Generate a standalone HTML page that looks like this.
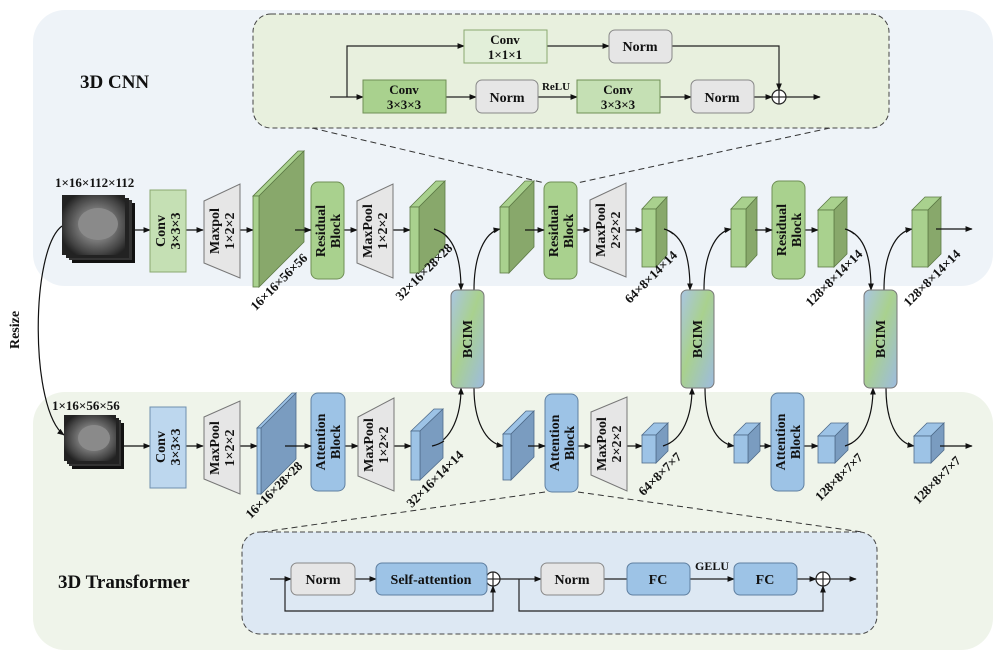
<!DOCTYPE html>
<html><head><meta charset="utf-8"><style>
html,body{margin:0;padding:0;background:#fff;}
svg{display:block;}
text{font-family:"Liberation Serif",serif;font-weight:bold;fill:#111;}
</style></head><body>
<svg width="1008" height="660" viewBox="0 0 1008 660" xmlns="http://www.w3.org/2000/svg">
<defs>
<marker id="ar" viewBox="0 0 10 10" refX="9" refY="5" markerWidth="6" markerHeight="6" orient="auto"><path d="M0,1 L10,5 L0,9z" fill="#111"/></marker>
<linearGradient id="bc" x1="0" y1="0" x2="1" y2="1">
<stop offset="0" stop-color="#a9c5e3"/><stop offset="0.45" stop-color="#a9d18e"/><stop offset="1" stop-color="#9dbbe0"/></linearGradient>
<radialGradient id="mri" cx="0.55" cy="0.5" r="0.6"><stop offset="0" stop-color="#9a9a9a"/><stop offset="0.45" stop-color="#777"/><stop offset="0.8" stop-color="#444"/><stop offset="1" stop-color="#222"/></radialGradient>
</defs>

<rect x="33" y="10" width="960" height="276" rx="32" fill="#eef3f8"/>
<rect x="33" y="392" width="960" height="258" rx="32" fill="#eff4ea"/>

<text x="80" y="88" font-size="19">3D CNN</text>
<text x="58" y="588" font-size="19">3D Transformer</text>

<!-- top inset -->
<line x1="312" y1="128" x2="545" y2="183" stroke="#333" stroke-dasharray="6,4"/>
<line x1="830" y1="128" x2="577" y2="183" stroke="#333" stroke-dasharray="6,4"/>
<rect x="253" y="14" width="636" height="114" rx="18" fill="#e8f0de" stroke="#444" stroke-dasharray="5,3"/>
<g stroke="#222" fill="none" stroke-width="1.2">
<line x1="330" y1="97" x2="363" y2="97" marker-end="url(#ar)"/>
<polyline points="347,97 347,46 464,46" marker-end="url(#ar)"/>
<line x1="547" y1="46" x2="609" y2="46" marker-end="url(#ar)"/>
<polyline points="672,46 779,46 779,90" marker-end="url(#ar)"/>
<line x1="446" y1="97" x2="476" y2="97" marker-end="url(#ar)"/>
<line x1="538" y1="97" x2="577" y2="97" marker-end="url(#ar)"/>
<line x1="660" y1="97" x2="691" y2="97" marker-end="url(#ar)"/>
<line x1="754" y1="97" x2="772" y2="97" marker-end="url(#ar)"/>
<line x1="786" y1="97" x2="820" y2="97" marker-end="url(#ar)"/>
<circle cx="779" cy="97" r="7" fill="#fff"/>
<line x1="772" y1="97" x2="786" y2="97"/><line x1="779" y1="90" x2="779" y2="104"/>
</g>
<rect x="464" y="30" width="83" height="33" fill="#e2efd9" stroke="#8aa870"/>
<text x="505" y="44" font-size="13" text-anchor="middle">Conv</text>
<text x="505" y="59" font-size="13" text-anchor="middle">1×1×1</text>
<rect x="609" y="30" width="63" height="33" rx="6" fill="#e6e6e6" stroke="#888"/>
<text x="640" y="51" font-size="14" text-anchor="middle">Norm</text>
<rect x="363" y="80" width="83" height="33" fill="#a9d18e" stroke="#6f8f55"/>
<text x="404" y="94" font-size="13" text-anchor="middle">Conv</text>
<text x="404" y="109" font-size="13" text-anchor="middle">3×3×3</text>
<rect x="476" y="80" width="62" height="33" rx="6" fill="#e6e6e6" stroke="#888"/>
<text x="507" y="102" font-size="14" text-anchor="middle">Norm</text>
<text x="556" y="90" font-size="11" text-anchor="middle">ReLU</text>
<rect x="577" y="80" width="83" height="33" fill="#c5e0b4" stroke="#6f8f55"/>
<text x="618" y="94" font-size="13" text-anchor="middle">Conv</text>
<text x="618" y="109" font-size="13" text-anchor="middle">3×3×3</text>
<rect x="691" y="80" width="63" height="33" rx="6" fill="#e6e6e6" stroke="#888"/>
<text x="722" y="102" font-size="14" text-anchor="middle">Norm</text>

<!-- bottom inset -->
<line x1="545" y1="492" x2="262" y2="532" stroke="#333" stroke-dasharray="6,4"/>
<line x1="578" y1="492" x2="862" y2="532" stroke="#333" stroke-dasharray="6,4"/>
<rect x="242" y="532" width="635" height="102" rx="18" fill="#dde8f3" stroke="#444" stroke-dasharray="5,3"/>
<g stroke="#222" fill="none" stroke-width="1.2">
<line x1="270" y1="579" x2="291" y2="579" marker-end="url(#ar)"/>
<polyline points="285,579 285,611 493,611 493,586" marker-end="url(#ar)"/>
<line x1="355" y1="579" x2="376" y2="579" marker-end="url(#ar)"/>
<line x1="500" y1="579" x2="541" y2="579" marker-end="url(#ar)"/>
<polyline points="519,579 519,611 823,611 823,586" marker-end="url(#ar)"/>
<line x1="604" y1="579" x2="627" y2="579"/>
<line x1="690" y1="579" x2="734" y2="579" marker-end="url(#ar)"/>
<line x1="797" y1="579" x2="816" y2="579" marker-end="url(#ar)"/>
<line x1="830" y1="579" x2="856" y2="579" marker-end="url(#ar)"/>
<circle cx="493" cy="579" r="7" fill="#fff"/>
<line x1="486" y1="579" x2="500" y2="579"/><line x1="493" y1="572" x2="493" y2="586"/>
<circle cx="823" cy="579" r="7" fill="#fff"/>
<line x1="816" y1="579" x2="830" y2="579"/><line x1="823" y1="572" x2="823" y2="586"/>
</g>
<rect x="291" y="563" width="64" height="32" rx="6" fill="#e6e6e6" stroke="#888"/>
<text x="323" y="584" font-size="14" text-anchor="middle">Norm</text>
<rect x="376" y="563" width="111" height="32" rx="6" fill="#9dc3e6" stroke="#5f7fa0"/>
<text x="431" y="584" font-size="14" text-anchor="middle">Self-attention</text>
<rect x="541" y="563" width="63" height="32" rx="6" fill="#e6e6e6" stroke="#888"/>
<text x="572" y="584" font-size="14" text-anchor="middle">Norm</text>
<rect x="627" y="563" width="63" height="32" rx="6" fill="#9dc3e6" stroke="#5f7fa0"/>
<text x="658" y="584" font-size="14" text-anchor="middle">FC</text>
<text x="712" y="570" font-size="12" text-anchor="middle">GELU</text>
<rect x="734" y="563" width="63" height="32" rx="6" fill="#9dc3e6" stroke="#5f7fa0"/>
<text x="765" y="584" font-size="14" text-anchor="middle">FC</text>

<!-- Resize -->
<path d="M62,226 C30,250 30,410 64,435" stroke="#111" fill="none" stroke-width="1.2" marker-end="url(#ar)"/>
<text transform="translate(19,330) rotate(-90)" font-size="14" text-anchor="middle">Resize</text>

<!-- images -->
<g>
<rect x="72" y="203" width="63" height="60" fill="#111"/>
<rect x="69" y="200" width="63" height="60" fill="#333"/>
<rect x="66" y="198" width="63" height="60" fill="#222"/>
<rect x="62" y="195" width="63" height="60" fill="url(#mri)"/>
<ellipse cx="98" cy="224" rx="20" ry="16" fill="#8a8a8a"/>
</g>
<text x="55" y="187" font-size="13">1×16×112×112</text>
<g>
<rect x="72" y="423" width="52" height="46" fill="#111"/>
<rect x="69" y="420" width="52" height="46" fill="#333"/>
<rect x="67" y="418" width="52" height="46" fill="#222"/>
<rect x="64" y="415" width="52" height="46" fill="url(#mri)"/>
<ellipse cx="94" cy="438" rx="16" ry="13" fill="#8a8a8a"/>
</g>
<text x="52" y="410" font-size="13">1×16×56×56</text>

<g stroke="#111" stroke-width="1.2" marker-end="url(#ar)">
<line x1="135" y1="230" x2="150" y2="230"/>
<line x1="186" y1="230" x2="203" y2="230"/>
<line x1="240" y1="230" x2="253" y2="230"/>
<line x1="344" y1="230" x2="357" y2="230"/>
<line x1="393" y1="230" x2="410" y2="230"/>
<line x1="577" y1="230" x2="590" y2="230"/>
<line x1="626" y1="230" x2="642" y2="230"/>
<line x1="805" y1="230" x2="818" y2="230"/>
<line x1="124" y1="446" x2="150" y2="446"/>
<line x1="186" y1="446" x2="203" y2="446"/>
<line x1="240" y1="446" x2="257" y2="446"/>
<line x1="345" y1="446" x2="358" y2="446"/>
<line x1="394" y1="446" x2="411" y2="446"/>
<line x1="578" y1="446" x2="591" y2="446"/>
<line x1="627" y1="446" x2="642" y2="446"/>
<line x1="804" y1="446" x2="818" y2="446"/>
</g>
<g stroke="#111" stroke-width="1.2" fill="none" marker-end="url(#ar)">
<path d="M434,229 C455,235 461,260 461,290"/>
<path d="M474,290 C474,255 485,232 500,229"/>
<path d="M664,229 C685,235 690,260 690,290"/>
<path d="M704,290 C704,255 715,232 731,229"/>
<path d="M845,229 C866,235 871,260 871,290"/>
<path d="M884,290 C884,255 895,232 912,229"/>
<path d="M432,446 C452,440 461,415 461,388"/>
<path d="M474,388 C474,420 485,443 503,446"/>
<path d="M663,446 C683,440 692,415 692,388"/>
<path d="M705,388 C705,420 715,443 734,446"/>
<path d="M845,446 C865,440 873,415 873,388"/>
<path d="M886,388 C886,420 896,443 914,446"/>
</g>

<rect x="150" y="190" width="36" height="82" fill="#c5e0b4" stroke="#8aa870"/>
<text transform="translate(168,231) rotate(-90)" font-size="14" text-anchor="middle"><tspan x="0" y="-3">Conv</tspan><tspan x="0" y="12">3×3×3</tspan></text>
<rect x="150" y="407" width="36" height="81" fill="#bdd7ee" stroke="#6f8faf"/>
<text transform="translate(168,447) rotate(-90)" font-size="14" text-anchor="middle"><tspan x="0" y="-3">Conv</tspan><tspan x="0" y="12">3×3×3</tspan></text>

<g fill="#e6e6e6" stroke="#777">
<polygon points="204,201 240,184 240,278 204,263"/>
<polygon points="357,201 393,184 393,278 357,263"/>
<polygon points="590,200 626,183 626,277 590,262"/>
<polygon points="204,417 240,401 240,494 204,479"/>
<polygon points="358,417 394,398 394,491 358,476"/>
<polygon points="591,412 627,397 627,491 591,475"/>
</g>
<g font-size="14" text-anchor="middle">
<text transform="translate(222,231) rotate(-90)"><tspan x="0" y="-3">Maxpol</tspan><tspan x="0" y="12">1×2×2</tspan></text>
<text transform="translate(375,231) rotate(-90)"><tspan x="0" y="-3">MaxPool</tspan><tspan x="0" y="12">1×2×2</tspan></text>
<text transform="translate(608,230) rotate(-90)"><tspan x="0" y="-3">MaxPool</tspan><tspan x="0" y="12">2×2×2</tspan></text>
<text transform="translate(222,448) rotate(-90)"><tspan x="0" y="-3">MaxPool</tspan><tspan x="0" y="12">1×2×2</tspan></text>
<text transform="translate(376,445) rotate(-90)"><tspan x="0" y="-3">MaxPool</tspan><tspan x="0" y="12">1×2×2</tspan></text>
<text transform="translate(609,444) rotate(-90)"><tspan x="0" y="-3">MaxPool</tspan><tspan x="0" y="12">2×2×2</tspan></text>
</g>

<g stroke="#6f8f55">
<rect x="311" y="182" width="33" height="97" rx="7" fill="#a9d18e"/>
<rect x="544" y="182" width="33" height="97" rx="7" fill="#a9d18e"/>
<rect x="772" y="181" width="33" height="98" rx="7" fill="#a9d18e"/>
</g>
<g stroke="#5f7fa0">
<rect x="311" y="393" width="34" height="98" rx="7" fill="#9dc3e6"/>
<rect x="545" y="394" width="33" height="98" rx="7" fill="#9dc3e6"/>
<rect x="771" y="393" width="33" height="98" rx="7" fill="#9dc3e6"/>
</g>
<g font-size="14" text-anchor="middle">
<text transform="translate(328,231) rotate(-90)"><tspan x="0" y="-3">Residual</tspan><tspan x="0" y="12">Block</tspan></text>
<text transform="translate(561,231) rotate(-90)"><tspan x="0" y="-3">Residual</tspan><tspan x="0" y="12">Block</tspan></text>
<text transform="translate(789,230) rotate(-90)"><tspan x="0" y="-3">Residual</tspan><tspan x="0" y="12">Block</tspan></text>
<text transform="translate(328,442) rotate(-90)"><tspan x="0" y="-3">Attention</tspan><tspan x="0" y="12">Block</tspan></text>
<text transform="translate(562,443) rotate(-90)"><tspan x="0" y="-3">Attention</tspan><tspan x="0" y="12">Block</tspan></text>
<text transform="translate(788,442) rotate(-90)"><tspan x="0" y="-3">Attention</tspan><tspan x="0" y="12">Block</tspan></text>
</g>

<g stroke="#777">
<rect x="451" y="290" width="33" height="98" rx="6" fill="url(#bc)"/>
<rect x="681" y="290" width="33" height="98" rx="6" fill="url(#bc)"/>
<rect x="864" y="290" width="33" height="98" rx="6" fill="url(#bc)"/>
</g>
<g font-size="14" text-anchor="middle">
<text transform="translate(472,339) rotate(-90)">BCIM</text>
<text transform="translate(702,339) rotate(-90)">BCIM</text>
<text transform="translate(885,339) rotate(-90)">BCIM</text>
</g>

<g stroke="#5d7a45" stroke-width="0.8">
<polygon points="253,196 298,151 304,151 259,196" fill="#a9d18e"/>
<polygon points="259,196 304,151 304,242 259,287" fill="#88a86b"/>
<rect x="253" y="196" width="6" height="91" fill="#a9d18e"/>
<polygon points="410,207 436,181 445,181 419,207" fill="#a9d18e"/>
<polygon points="419,207 445,181 445,247 419,273" fill="#88a86b"/>
<rect x="410" y="207" width="9" height="66" fill="#a9d18e"/>
<polygon points="500,207 525,181 534,181 509,207" fill="#a9d18e"/>
<polygon points="509,207 534,181 534,247 509,273" fill="#88a86b"/>
<rect x="500" y="207" width="9" height="66" fill="#a9d18e"/>
<polygon points="642,209 653,197 667,197 656,209" fill="#a9d18e"/>
<polygon points="656,209 667,197 667,255 656,267" fill="#88a86b"/>
<rect x="642" y="209" width="14" height="58" fill="#a9d18e"/>
<polygon points="731,209 742,197 757,197 746,209" fill="#a9d18e"/>
<polygon points="746,209 757,197 757,255 746,267" fill="#88a86b"/>
<rect x="731" y="209" width="15" height="58" fill="#a9d18e"/>
<polygon points="818,210 831,197 847,197 834,210" fill="#a9d18e"/>
<polygon points="834,210 847,197 847,254 834,267" fill="#88a86b"/>
<rect x="818" y="210" width="16" height="57" fill="#a9d18e"/>
<polygon points="912,210 925,197 941,197 928,210" fill="#a9d18e"/>
<polygon points="928,210 941,197 941,254 928,267" fill="#88a86b"/>
<rect x="912" y="210" width="16" height="57" fill="#a9d18e"/>
</g>
<g stroke="#4f6b8a" stroke-width="0.8">
<polygon points="257,428 292,393 296,393 261,428" fill="#9dc3e6"/>
<polygon points="261,428 296,393 296,459 261,494" fill="#7a9cc0"/>
<rect x="257" y="428" width="4" height="66" fill="#9dc3e6"/>
<polygon points="411,431 434,409 443,409 420,431" fill="#9dc3e6"/>
<polygon points="420,431 443,409 443,458 420,480" fill="#7a9cc0"/>
<rect x="411" y="431" width="9" height="49" fill="#9dc3e6"/>
<polygon points="503,434 526,411 534,411 511,434" fill="#9dc3e6"/>
<polygon points="511,434 534,411 534,457 511,480" fill="#7a9cc0"/>
<rect x="503" y="434" width="8" height="46" fill="#9dc3e6"/>
<polygon points="642,435 654,423 668,423 656,435" fill="#9dc3e6"/>
<polygon points="656,435 668,423 668,451 656,463" fill="#7a9cc0"/>
<rect x="642" y="435" width="14" height="28" fill="#9dc3e6"/>
<polygon points="734,435 746,423 760,423 748,435" fill="#9dc3e6"/>
<polygon points="748,435 760,423 760,451 748,463" fill="#7a9cc0"/>
<rect x="734" y="435" width="14" height="28" fill="#9dc3e6"/>
<polygon points="818,436 831,423 848,423 835,436" fill="#9dc3e6"/>
<polygon points="835,436 848,423 848,450 835,463" fill="#7a9cc0"/>
<rect x="818" y="436" width="17" height="27" fill="#9dc3e6"/>
<polygon points="914,436 927,423 944,423 931,436" fill="#9dc3e6"/>
<polygon points="931,436 944,423 944,450 931,463" fill="#7a9cc0"/>
<rect x="914" y="436" width="17" height="27" fill="#9dc3e6"/>
</g>
<g stroke="#111" stroke-width="1.2" marker-end="url(#ar)">
<line x1="295" y1="230" x2="311" y2="230"/>
<line x1="525" y1="230" x2="544" y2="230"/>
<line x1="755" y1="230" x2="772" y2="230"/>
<line x1="936" y1="229" x2="972" y2="229"/>
<line x1="285" y1="446" x2="311" y2="446"/>
<line x1="528" y1="446" x2="545" y2="446"/>
<line x1="760" y1="446" x2="771" y2="446"/>
<line x1="940" y1="446" x2="972" y2="446"/>
</g>
<g stroke="#111" stroke-width="1.2" fill="none">
<path d="M434,229 C440,231 445,234 448,238"/>
<path d="M664,229 C668,230 671,232 673,234"/>
<path d="M845,229 C849,230 852,232 854,234"/>
<path d="M432,446 C437,445 441,443 444,441"/>
<path d="M663,446 C666,445 668,444 670,443"/>
<path d="M845,446 C848,445 850,444 852,443"/>
</g>

<g font-size="13" text-anchor="middle">
<text transform="translate(282,285) rotate(-45)">16×16×56×56</text>
<text transform="translate(427,275) rotate(-45)">32×16×28×28</text>
<text transform="translate(654,280) rotate(-45)">64×8×14×14</text>
<text transform="translate(837,281) rotate(-45)">128×8×14×14</text>
<text transform="translate(935,281) rotate(-45)">128×8×14×14</text>
<text transform="translate(277,493) rotate(-45)">16×16×28×28</text>
<text transform="translate(438,482) rotate(-45)">32×16×14×14</text>
<text transform="translate(663,477) rotate(-45)">64×8×7×7</text>
<text transform="translate(842,480) rotate(-45)">128×8×7×7</text>
<text transform="translate(940,483) rotate(-45)">128×8×7×7</text>
</g>
</svg>
</body></html>
